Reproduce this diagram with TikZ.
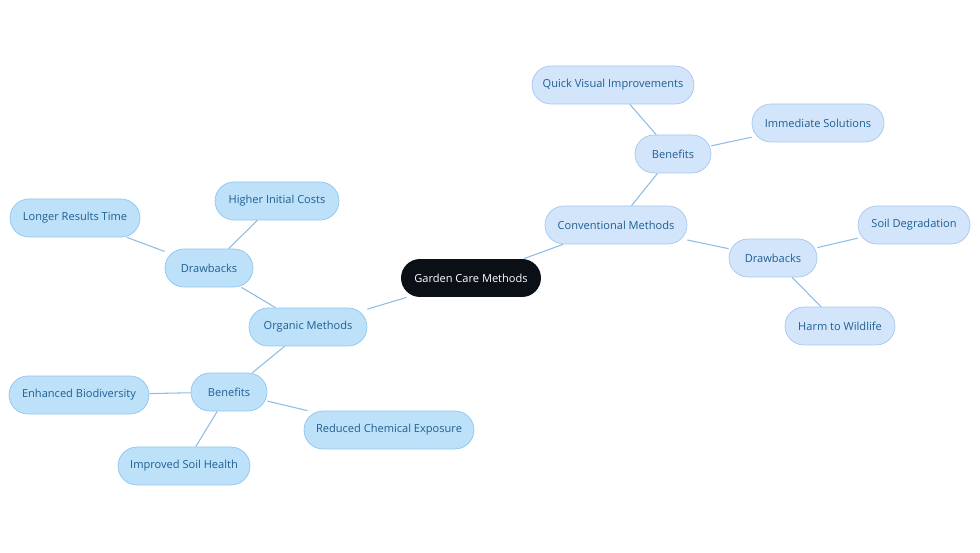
\documentclass[tikz,border=0pt]{standalone}
\usepackage{fontspec}
\setmainfont{Open Sans}
\definecolor{rootFill}{HTML}{0B0F16}
\definecolor{orgFill}{HTML}{BEE1FA}
\definecolor{orgLine}{HTML}{8CC6EE}
\definecolor{convFill}{HTML}{D3E5FB}
\definecolor{convLine}{HTML}{A6C6EE}
\definecolor{nodeText}{HTML}{1F5F91}
\definecolor{linkLine}{HTML}{8DBCE4}
\begin{document}
\begin{tikzpicture}[x=0.02cm,y=-0.02cm,
    root/.style={%
        fill=rootFill,
        text=white,
        rounded corners=0.38cm,
        minimum height=0.76cm,
        font=\fontsize{6.3}{8}\selectfont
    },
    organic/.style={%
        draw=orgLine,
        fill=orgFill,
        text=nodeText,
        rounded corners=0.38cm,
        minimum height=0.76cm,
        font=\fontsize{6.3}{8}\selectfont
    },
    conventional/.style={%
        draw=convLine,
        fill=convFill,
        text=nodeText,
        rounded corners=0.38cm,
        minimum height=0.76cm,
        font=\fontsize{6.3}{8}\selectfont
    },
    link/.style={draw=linkLine, line width=0.6pt}
]
\useasboundingbox (0,0) rectangle (980,553);

% Root
    \node[root, minimum width=2.8cm] (garden) at (471,278) {Garden Care Methods};

% Conventional branch
    \node[conventional, minimum width=2.84cm] (conventional) at (616,225) {Conventional Methods};
    \node[conventional, minimum width=1.52cm] (convBenefits) at (673,154) {Benefits};
    \node[conventional, minimum width=3.24cm] (quickVisual) at (613,85) {Quick Visual Improvements};
    \node[conventional, minimum width=2.64cm] (immediate) at (818,123) {Immediate Solutions};
    \node[conventional, minimum width=1.76cm] (convDrawbacks) at (773,258) {Drawbacks};
    \node[conventional, minimum width=2.24cm] (soilDegradation) at (914,225) {Soil Degradation};
    \node[conventional, minimum width=2.2cm] (harmWildlife) at (840,326) {Harm to Wildlife};

% Organic branch
    \node[organic, minimum width=2.36cm] (organic) at (308,327) {Organic Methods};
    \node[organic, minimum width=1.76cm] (orgDrawbacks) at (209,268) {Drawbacks};
    \node[organic, minimum width=2.48cm] (higherCosts) at (277,201) {Higher Initial Costs};
    \node[organic, minimum width=2.6cm] (longerTime) at (75,218) {Longer Results Time};
    \node[organic, minimum width=1.52cm] (orgBenefits) at (229,392) {Benefits};
    \node[organic, minimum width=2.8cm] (biodiversity) at (79,395) {Enhanced Biodiversity};
    \node[organic, minimum width=3.4cm] (chemical) at (389,430) {Reduced Chemical Exposure};
    \node[organic, minimum width=2.64cm] (soilHealth) at (184,466) {Improved Soil Health};

% Links
\path[link] (garden) -- (conventional);
\path[link] (conventional) -- (convBenefits);
\path[link] (convBenefits) -- (quickVisual);
\path[link] (convBenefits) -- (immediate);
\path[link] (conventional) -- (convDrawbacks);
\path[link] (convDrawbacks) -- (soilDegradation);
\path[link] (convDrawbacks) -- (harmWildlife);

\path[link] (garden) -- (organic);
\path[link] (organic) -- (orgDrawbacks);
\path[link] (orgDrawbacks) -- (higherCosts);
\path[link] (orgDrawbacks) -- (longerTime);
\path[link] (organic) -- (orgBenefits);
\path[link] (orgBenefits) -- (biodiversity);
\path[link] (orgBenefits) -- (chemical);
\path[link] (orgBenefits) -- (soilHealth);

\end{tikzpicture}
\end{document}
